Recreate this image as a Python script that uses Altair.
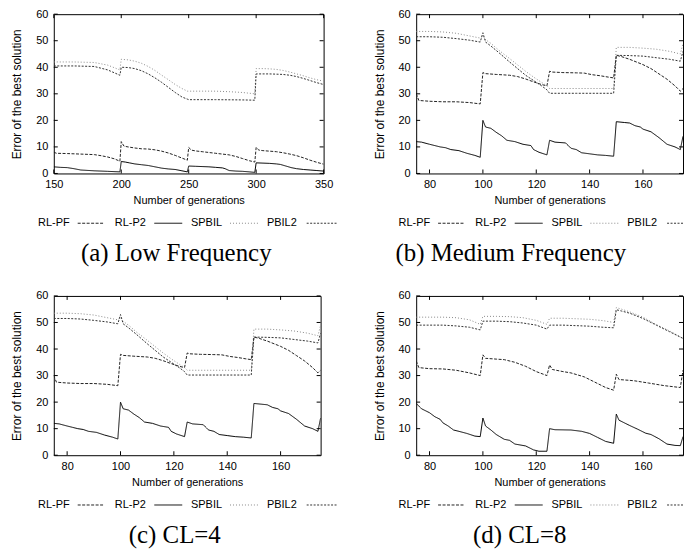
import altair as alt
import pandas as pd

SERIES = ["RL-PF", "RL-P2", "SPBIL", "PBIL2"]
COLORS = ["#222222", "#000000", "#8a8a8a", "#333333"]
DASHES = [[3, 1.5], [1, 0], [1, 2], [2, 1.5]]
CAPTIONS = ["(a) Low Frequency", "(b) Medium Frequency", "(c) CL=4", "(d) CL=8"]
Y_TICKS = [0, 10, 20, 30, 40, 50, 60]
X_TICKS_LOW = [150, 200, 250, 300, 350]
X_TICKS_MED = [80, 100, 120, 140, 160]

# ---- Panel (a): Low Frequency ----
A_SPBIL_X = [150, 165, 180, 190, 199, 200, 205, 210, 215, 220, 225, 230, 235, 240, 245, 249, 250, 260, 270, 280, 290, 299,
             300, 305, 310, 315, 320, 325, 330, 335, 340, 345, 350]
A_SPBIL_Y = [42, 42, 41.8, 40.8, 39, 43, 42.8, 42.3, 41.5, 40.3, 38.8, 37, 35.3, 33.5, 32, 31, 31, 31, 31, 30.8, 30.5, 30,
             39.5, 39.5, 39.4, 39.2, 38.8, 38.2, 37.5, 36.8, 36, 35.3, 34.8]
A_PBIL2_X = [150, 165, 180, 190, 199, 200, 205, 210, 215, 220, 225, 230, 235, 240, 245, 249, 250, 270, 290, 299,
             300, 310, 320, 325, 330, 335, 340, 345, 350]
A_PBIL2_Y = [40.5, 40.5, 40.3, 39, 37, 40, 39.9, 39.5, 38.7, 37.5, 36, 34.3, 32.4, 30.5, 28.8, 28, 27.8, 27.8, 27.7, 27.6,
             37.5, 37.5, 37.3, 37, 36.5, 35.8, 35, 34.2, 33.5]
A_RLPF_X = [150, 152, 160, 170, 180, 185, 190, 195, 199, 200, 202, 205, 210, 215, 220, 225, 230, 235, 240, 245, 249,
            250, 252, 255, 260, 265, 270, 275, 280, 285, 290, 295, 299, 300, 302, 305, 310, 315, 320, 325, 330, 335, 340,
            345, 350]
A_RLPF_Y = [8, 7.6, 7.5, 7.3, 7.1, 6.7, 6.2, 5.5, 4.6, 12, 10.3, 10, 9.6, 9.3, 9.2, 8.9, 8.4, 7.7, 6.8, 5.8, 5,
            9.8, 8.8, 8.5, 8.2, 7.9, 7.6, 7.3, 7, 6.4, 5.6, 4.8, 4.3, 9.8, 8.8, 8.6, 8.4, 8.2, 7.8, 7.3, 6.7, 5.9, 5,
            4.2, 3.5]
A_RLP2_X = [150, 155, 160, 165, 170, 180, 190, 199, 200, 203, 206, 210, 215, 220, 225, 230, 235, 240, 245, 249,
            250, 255, 260, 265, 270, 275, 277, 280, 285, 290, 295, 299, 300, 305, 310, 315, 318, 322, 326, 330, 335, 340,
            345, 350]
A_RLP2_Y = [2.5, 2.3, 2.2, 1.8, 1.3, 1, 0.8, 0.6, 4.5, 4.3, 4, 3.6, 3.3, 3, 2.5, 2, 1.7, 1.5, 1, 0.6,
            2.8, 2.7, 2.6, 2.5, 2.3, 2.1, 1.8, 1.1, 0.9, 0.8, 0.6, 0.4, 4, 3.9, 3.8, 3.6, 3.4, 2.8, 2.2, 1.8, 1.5, 1.3,
            1.1, 0.9]

# ---- Panels (b) Medium Frequency and (c) CL=4 ----
B_SPBIL_X = [75, 80, 85, 90, 95, 99, 100, 101, 103, 106, 110, 113, 116, 119, 122, 124, 125, 130, 140, 149,
             150, 155, 160, 165, 170, 174, 175]
B_SPBIL_Y = [53.5, 53.5, 53.3, 52.8, 51.8, 51, 51.8, 50.4, 49, 46.4, 43.3, 40.9, 38.5, 36.3, 34.3, 33, 32, 32, 32, 32,
             47.5, 47.5, 47.2, 46.8, 46, 45, 49]
B_PBIL2_X = [75, 80, 85, 90, 95, 99, 100, 101, 103, 106, 110, 113, 116, 119, 122, 124, 125, 135, 149,
             150, 155, 160, 165, 170, 174, 175]
B_PBIL2_Y = [51.5, 51.5, 51.3, 50.8, 50.2, 49.5, 53, 49.5, 48, 45.5, 42, 39.5, 37, 35, 33, 31.5, 30.2, 30.2, 30.2,
             44.5, 44.4, 44.2, 43.6, 43, 42.3, 46]
B_RLPF_X = [75, 76, 80, 85, 90, 95, 99, 100, 101, 105, 110, 113, 116, 119, 122, 124, 125, 126, 130, 135, 138, 141,
            144, 147, 149, 150, 152, 155, 158, 160, 163, 166, 169, 172, 174, 175]
B_RLPF_Y = [30, 27.5, 27.2, 27, 27, 26.7, 26.2, 38, 37.6, 37.3, 37, 36.5, 35.6, 34.5, 33.5, 33, 38.5, 38.2, 38, 37.9,
            37.8, 37.2, 36.8, 36.3, 36, 44.5, 44, 43, 41.8, 41, 39.5, 37.5, 35.5, 33, 31, 32]
B_RLP2_X = [75, 77, 80, 82, 84, 86, 88, 91, 94, 97, 99, 100, 101, 103, 105, 107, 109, 112, 115, 118, 119, 121, 124,
            125, 127, 131, 133, 135, 137, 140, 143, 146, 149, 150, 153, 155, 157, 159, 160, 163, 166, 169, 172, 174,
            175]
B_RLP2_Y = [12, 11.8, 11, 10.5, 10, 9.7, 9, 8.6, 7.6, 6.8, 6.1, 20, 17.5, 17, 15.5, 14.2, 12.5, 12, 11, 10.5, 9, 8, 7,
            12.5, 11.8, 11.5, 9.5, 9, 7.8, 7.4, 7, 6.8, 6.5, 19.5, 19.2, 19, 18, 17.5, 16.7, 15.7, 13.5, 11, 10, 9,
            14]

# ---- Panel (d): CL=8 ----
D_SPBIL_X = [75, 85, 90, 95, 99, 100, 105, 110, 115, 120, 124, 125, 130, 135, 140, 145, 149, 150, 152, 155, 160, 165,
             170, 175]
D_SPBIL_Y = [52, 52, 51.8, 51, 49.3, 52.3, 52.3, 52.2, 51.8, 50.8, 49.3, 51.6, 51.6, 51.4, 51.2, 50.7, 50, 55.6, 55,
             54, 52, 49.2, 46.8, 44]
D_PBIL2_X = [75, 85, 90, 95, 99, 100, 105, 110, 115, 120, 124, 125, 130, 135, 140, 145, 149, 150, 152, 155, 160, 165,
             170, 175]
D_PBIL2_Y = [49, 49, 48.7, 48.2, 47.2, 50.5, 50.5, 50.3, 49.8, 49, 47.5, 49, 49, 48.8, 48.6, 48.2, 48, 54.8, 54.3,
             53.5, 51.5, 49, 46.5, 44]
D_RLPF_X = [75, 76, 80, 85, 90, 95, 99, 100, 101, 105, 108, 112, 116, 120, 124, 125, 126, 130, 133, 138, 142, 146,
            149, 150, 151, 155, 157, 162, 168, 174, 175]
D_RLPF_Y = [35.5, 33, 32.6, 32.5, 32, 31, 30, 37.8, 36.5, 36.2, 36, 35, 33.5, 31.5, 30, 34, 32.3, 31.5, 31, 29.5,
            27.5, 25.5, 24.5, 30.5, 28.5, 28.2, 28, 27.2, 26.2, 25.5, 32]
D_RLP2_X = [75, 77, 80, 82, 84, 85, 87, 89, 91, 94, 97, 99, 100, 101, 103, 105, 108, 110, 112, 116, 119, 121, 124,
            125, 127, 133, 137, 140, 143, 146, 149, 150, 151, 153, 155, 158, 161, 163, 166, 169, 172, 174, 175]
D_RLP2_Y = [19.5, 17.5, 16, 14.5, 13.5, 12.2, 11, 9.5, 9, 8.2, 7.2, 7, 14, 11, 9.5, 7.8, 6, 5.6, 4.2, 3.5, 2, 1.5,
            1.5, 10, 9.6, 9.5, 9, 8.2, 6.7, 5.2, 4.5, 15.5, 13.2, 12.2, 11.2, 9.8, 8.3, 7.8, 6.2, 4.2, 3.7, 3.6, 7]

PANEL_A = {"RL-PF": (A_RLPF_X, A_RLPF_Y), "RL-P2": (A_RLP2_X, A_RLP2_Y),
           "SPBIL": (A_SPBIL_X, A_SPBIL_Y), "PBIL2": (A_PBIL2_X, A_PBIL2_Y)}
PANEL_B = {"RL-PF": (B_RLPF_X, B_RLPF_Y), "RL-P2": (B_RLP2_X, B_RLP2_Y),
           "SPBIL": (B_SPBIL_X, B_SPBIL_Y), "PBIL2": (B_PBIL2_X, B_PBIL2_Y)}
PANEL_D = {"RL-PF": (D_RLPF_X, D_RLPF_Y), "RL-P2": (D_RLP2_X, D_RLP2_Y),
           "SPBIL": (D_SPBIL_X, D_SPBIL_Y), "PBIL2": (D_PBIL2_X, D_PBIL2_Y)}

H = 160
FONT = "Liberation Sans"
SERIF = "Liberation Serif"


def panel(data, xdom, xticks, w, caption, cap_dx, leg_dx, right_limit):
    rows = []
    for s in SERIES:
        xs, ys = data[s]
        rows += [{"series": s, "x": a, "y": b} for a, b in zip(xs, ys)]
    df = pd.DataFrame(rows)

    xscale = alt.Scale(domain=xdom, nice=False, zero=False)
    yscale = alt.Scale(domain=[0, 60], nice=False)
    xaxis = alt.Axis(values=xticks, title="Number of generations", labelPadding=5, titlePadding=5,
                     format="d", labelFlush=False)
    yaxis = alt.Axis(values=Y_TICKS, title="Error of the best solution", labelPadding=6, titlePadding=12,
                     labelFlush=False, titleFontSize=12)

    lines = alt.Chart(df).mark_line(strokeWidth=1, clip=True).encode(
        x=alt.X("x:Q", scale=xscale, axis=xaxis),
        y=alt.Y("y:Q", scale=yscale, axis=yaxis),
        color=alt.Color("series:N", scale=alt.Scale(domain=SERIES, range=COLORS), legend=None),
        strokeDash=alt.StrokeDash("series:N", scale=alt.Scale(domain=SERIES, range=DASHES), legend=None),
        detail="series:N",
    )

    xt = pd.DataFrame({"x": xticks})
    yt = pd.DataFrame({"y": Y_TICKS})
    tick_b = alt.Chart(xt).mark_rule(color="black", strokeWidth=1).encode(
        x=alt.X("x:Q", scale=xscale, axis=xaxis), y=alt.value(H), y2=alt.value(H - 4))
    tick_t = alt.Chart(xt).mark_rule(color="black", strokeWidth=1).encode(
        x=alt.X("x:Q", scale=xscale, axis=xaxis), y=alt.value(0), y2=alt.value(4))
    tick_l = alt.Chart(yt).mark_rule(color="black", strokeWidth=1).encode(
        y=alt.Y("y:Q", scale=yscale, axis=yaxis), x=alt.value(0), x2=alt.value(4))
    tick_r = alt.Chart(yt).mark_rule(color="black", strokeWidth=1).encode(
        y=alt.Y("y:Q", scale=yscale, axis=yaxis), x=alt.value(w), x2=alt.value(w - 4))

    layers = [lines, tick_b, tick_t, tick_l, tick_r]

    leg_y = H + 50
    label_right = [16, 92.5, 169, 244]
    samples = [(24, 51), (101, 129), (177, 205), (254, 285)]
    for i, s in enumerate(SERIES):
        one = pd.DataFrame({"label": [s]})
        layers.append(alt.Chart(one).mark_text(
            align="right", baseline="middle", font=FONT, fontSize=11, color="black"
        ).encode(text="label:N", x=alt.value(label_right[i] + leg_dx), y=alt.value(leg_y)))
        a, b = samples[i]
        b = min(b + leg_dx, right_limit)
        layers.append(alt.Chart(one).mark_rule(
            strokeDash=DASHES[i], color=COLORS[i], strokeWidth=1
        ).encode(x=alt.value(a + leg_dx), x2=alt.value(b), y=alt.value(leg_y)))

    cap = pd.DataFrame({"cap": [caption]})
    layers.append(alt.Chart(cap).mark_text(
        align="center", baseline="middle", font=SERIF, fontSize=25, color="black"
    ).encode(text="cap:N", x=alt.value(w / 2 + cap_dx), y=alt.value(H + 80)))

    return alt.layer(*layers).properties(width=w, height=H)


pa = panel(PANEL_A, [150, 350], X_TICKS_LOW, 271, CAPTIONS[0], -12.5, 0, 285)
pb = panel(PANEL_B, [75, 175], X_TICKS_MED, 268, CAPTIONS[1], -39, -2, 268)
pc = panel(PANEL_B, [75, 175], X_TICKS_MED, 268, CAPTIONS[2], -12.5, 0, 285)
pd_ = panel(PANEL_D, [75, 175], X_TICKS_MED, 268, CAPTIONS[3], -30, -2, 268)

chart = alt.concat(pa, pb, pc, pd_, columns=2, spacing={"row": 123, "column": 93}, bounds="flush").properties(
    padding={"left": 2, "top": -2, "right": 0, "bottom": 0}
).configure_view(stroke="black", strokeWidth=1).configure_axis(
    labelFont=FONT, labelFontSize=11, titleFont=FONT, titleFontSize=11, titleFontWeight="normal",
    labelColor="black", titleColor="black", domain=False, ticks=False, tickSize=0, grid=False
)

chart.save("out.html", embed_options={"renderer": "svg", "actions": False})
